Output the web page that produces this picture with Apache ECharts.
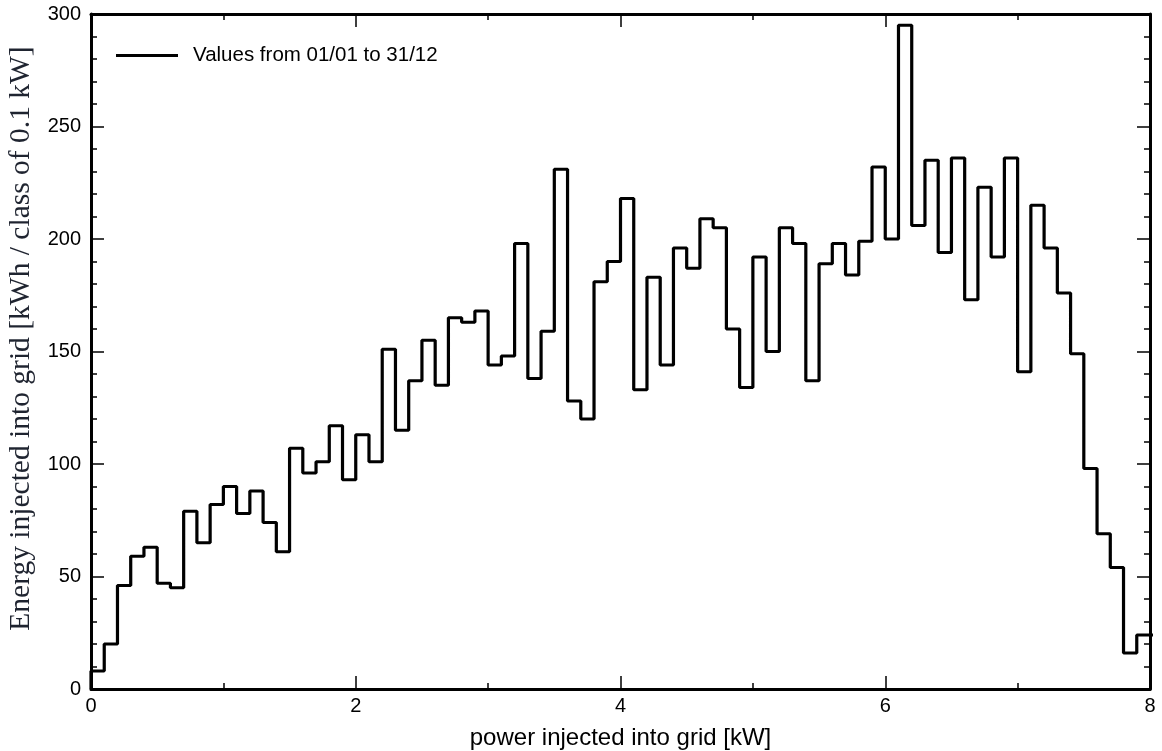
<!DOCTYPE html>
<html>
<head>
<meta charset="utf-8">
<script src="https://cdn.jsdelivr.net/npm/echarts@6/dist/echarts.min.js"></script>
<style>
html, body { margin: 0; background: #fff; }
#main { width: 1162px; height: 751px; }
</style>
</head>
<body>
<div id="main"></div>
<script>
// histogram classes of 0.1 kW, first class starts at 0 kW
var binWidth = 0.1;
var energy = [
    8, 20, 46, 59, 63, 47, 45, 79, 65, 82,
    90, 78, 88, 74, 61, 107, 96, 101, 117, 93,
    113, 101, 151, 115, 137, 155, 135, 165, 163, 168,
    144, 148, 198, 138, 159, 231, 128, 120, 181, 190,
    218, 133, 183, 144, 196, 187, 209, 205, 160, 134,
    192, 150, 205, 198, 137, 189, 198, 184, 199, 232,
    200, 295, 206, 235, 194, 236, 173, 223, 192, 236,
    141, 215, 196, 176, 149, 98, 69, 54, 16, 24,
    24
];
var legendName = 'Values from 01/01 to 31/12';

// step outline: up from 0, one point per class start, close at the last class end
var pts = [[0, 0]];
for (var i = 0; i < energy.length; i++) {
    pts.push([+(i * binWidth).toFixed(2), energy[i]]);
}
var xEnd = +(energy.length * binWidth).toFixed(2);
pts.push([xEnd, energy[energy.length - 1]]);
pts.push([xEnd, 0]);

var myChart = echarts.init(document.getElementById('main'));

var sans = 'Liberation Sans, Arial, sans-serif';
var axisLine = { show: true, onZero: false, lineStyle: { color: '#000', width: 3 } };
var tick = { show: true, inside: true, length: 13, lineStyle: { color: '#000', width: 1.5 } };
var minor = { show: true, length: 6, lineStyle: { color: '#000', width: 1.5 } };
var tickFont = { color: '#000', fontSize: 20, fontFamily: sans };

var option = {
    animation: false,
    backgroundColor: '#fff',
    grid: { left: 91, right: 12, top: 14, bottom: 62, outerBoundsMode: 'none', containLabel: false },
    legend: {
        data: [legendName],
        left: 111,
        top: 40,
        icon: 'rect',
        itemWidth: 62,
        itemHeight: 3,
        textStyle: { color: '#000', fontSize: 20.5, fontFamily: sans, padding: [0, 0, 0, 10] }
    },
    xAxis: [{
        type: 'value',
        position: 'bottom',
        min: 0, max: 8, interval: 2,
        axisLine: axisLine,
        axisTick: tick,
        minorTick: Object.assign({ splitNumber: 2 }, minor),
        splitLine: { show: false },
        axisLabel: Object.assign({ margin: 7 }, tickFont),
        name: 'power injected into grid [kW]',
        nameLocation: 'middle',
        nameGap: 37,
        nameTextStyle: { color: '#000', fontSize: 24, fontFamily: sans }
    }, {
        type: 'value',
        position: 'top',
        min: 0, max: 8, interval: 2,
        axisLine: axisLine,
        axisTick: tick,
        minorTick: Object.assign({ splitNumber: 2 }, minor),
        splitLine: { show: false },
        axisLabel: { show: false }
    }],
    yAxis: [{
        type: 'value',
        position: 'left',
        min: 0, max: 300, interval: 50,
        axisLine: axisLine,
        axisTick: tick,
        minorTick: Object.assign({ splitNumber: 5 }, minor),
        splitLine: { show: false },
        axisLabel: Object.assign({ margin: 10 }, tickFont),
        name: 'Energy injected into grid [kWh / class of 0.1 kW]',
        nameLocation: 'middle',
        nameRotate: 90,
        nameGap: 54,
        nameTextStyle: {
            color: '#1f2430', fontSize: 29.5,
            fontFamily: 'Liberation Serif, Times New Roman, serif',
            padding: [0, 0, 0, 26]
        }
    }, {
        type: 'value',
        position: 'right',
        min: 0, max: 300, interval: 50,
        axisLine: axisLine,
        axisTick: tick,
        minorTick: Object.assign({ splitNumber: 5 }, minor),
        splitLine: { show: false },
        axisLabel: { show: false }
    }],
    series: [{
        name: legendName,
        type: 'line',
        step: 'end',
        symbol: 'none',
        clip: false,
        xAxisIndex: 0,
        yAxisIndex: 0,
        lineStyle: { color: '#000', width: 3.2 },
        itemStyle: { color: '#000' },
        data: pts
    }]
};

myChart.setOption(option);
</script>
</body>
</html>
